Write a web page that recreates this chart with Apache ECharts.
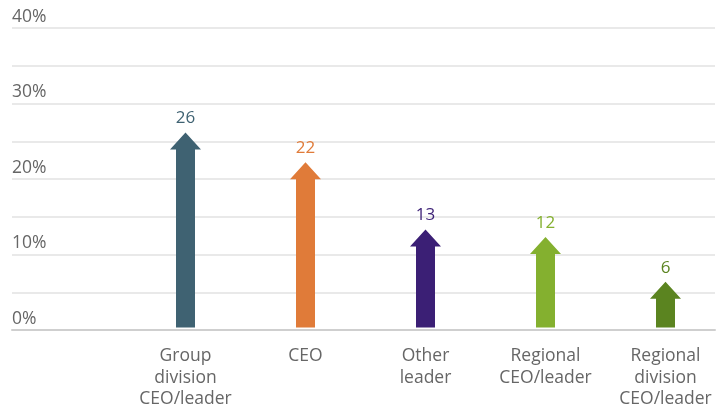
<!DOCTYPE html>
<html><head><meta charset="utf-8">
<script src="https://cdn.jsdelivr.net/npm/echarts@6/dist/echarts.min.js"></script>
<style>html,body{margin:0;padding:0;background:#fff}#c{width:728px;height:410px}</style>
</head><body><div id="c"></div>
<script>
const categories = ['Group\ndivision\nCEO/leader', 'CEO', 'Other\nleader', 'Regional\nCEO/leader', 'Regional\ndivision\nCEO/leader'];
const values = [26, 22, 13, 12, 6];
const colors = ['#3f6272', '#e07b39', '#3b1f75', '#84b02f', '#5b8420'];
const yTicks = [0, 10, 20, 30, 40];

const chart = echarts.init(document.getElementById('c'));
const font = '"Open Sans", Roboto, sans-serif';
chart.setOption({
  animation: false,
  grid: [
    {left: 12, right: 13, top: 28, bottom: 80},
    {left: 125.5, right: 2.5, top: 28, bottom: 80}
  ],
  xAxis: [
    {gridIndex: 0, type: 'value', min: 0, max: 1, show: true,
      axisLine: {show: true, onZero: false, lineStyle: {color: '#cfcfcf', width: 2}},
      axisTick: {show: false}, axisLabel: {show: false}, splitLine: {show: false}},
    {gridIndex: 1, type: 'category', data: categories,
      axisLine: {show: false}, axisTick: {show: false},
      axisLabel: {color: '#666', fontSize: 17.5, fontFamily: font, lineHeight: 21.5, margin: 19, interval: 0}}
  ],
  yAxis: [
    {gridIndex: 0, type: 'value', min: 0, max: 40, interval: 5,
      axisLine: {show: false}, axisTick: {show: false},
      splitLine: {lineStyle: {color: '#e2e2e2', width: 1.5}},
      axisLabel: {inside: true, margin: 0, verticalAlign: 'bottom', padding: [0, 0, 2, 0],
        color: '#666', fontSize: 17.5, fontFamily: font,
        formatter: v => yTicks.includes(v) ? v + '%' : ''}},
    {gridIndex: 1, type: 'value', min: 0, max: 40, show: false}
  ],
  series: [{
    type: 'custom',
    xAxisIndex: 1, yAxisIndex: 1,
    z: 5,
    clip: false,
    data: values.map((v, i) => [i, v]),
    renderItem: (params, api) => {
      const i = api.value(0), v = api.value(1);
      const tip = api.coord([i, v]);
      const base = api.coord([i, 0]);
      const x = tip[0], sw = 9.5, hw = 15.5, hh = 17;
      const c = colors[params.dataIndex];
      return {type: 'group', children: [
        {type: 'polygon', shape: {points: [
          [x, tip[1]], [x + hw, tip[1] + hh], [x + sw, tip[1] + hh], [x + sw, base[1] + 1],
          [x - sw, base[1] + 1], [x - sw, tip[1] + hh], [x - hw, tip[1] + hh]
        ]}, style: {fill: c}},
        {type: 'text', x: x, y: tip[1] - 14, style: {text: String(v), fill: c, fontSize: 17,
          fontFamily: font, align: 'center', verticalAlign: 'middle'}}
      ]};
    }
  }]
});
</script></body></html>
